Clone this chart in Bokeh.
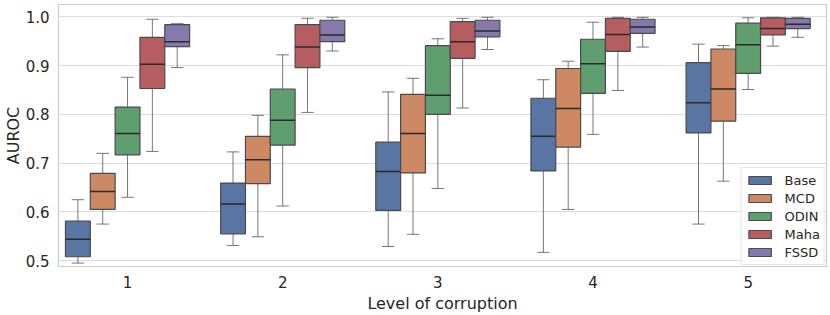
from bokeh.plotting import figure
from bokeh.models import ColumnDataSource, FixedTicker, Range1d, Legend, LegendItem, NumeralTickFormatter
from bokeh.embed import file_html
from bokeh.resources import INLINE

levels = ["1", "2", "3", "4", "5"]
series = ["Base", "MCD", "ODIN", "Maha", "FSSD"]
y_ticks = [0.5, 0.6, 0.7, 0.8, 0.9, 1.0]

base_lo = [0.495, 0.531, 0.529, 0.517, 0.575]
base_q1 = [0.508, 0.555, 0.603, 0.684, 0.762]
base_med = [0.544, 0.616, 0.683, 0.755, 0.824]
base_q3 = [0.581, 0.659, 0.743, 0.833, 0.906]
base_hi = [0.625, 0.723, 0.846, 0.871, 0.944]

mcd_lo = [0.575, 0.549, 0.554, 0.605, 0.663]
mcd_q1 = [0.605, 0.658, 0.680, 0.733, 0.786]
mcd_med = [0.642, 0.707, 0.761, 0.812, 0.852]
mcd_q3 = [0.679, 0.755, 0.841, 0.894, 0.934]
mcd_hi = [0.720, 0.798, 0.874, 0.909, 0.941]

odin_lo = [0.630, 0.612, 0.648, 0.759, 0.851]
odin_q1 = [0.717, 0.737, 0.800, 0.843, 0.884]
odin_med = [0.761, 0.788, 0.839, 0.904, 0.943]
odin_q3 = [0.815, 0.852, 0.941, 0.954, 0.987]
odin_hi = [0.876, 0.922, 0.955, 0.989, 0.998]

maha_lo = [0.724, 0.804, 0.813, 0.849, 0.940]
maha_q1 = [0.853, 0.896, 0.915, 0.929, 0.963]
maha_med = [0.903, 0.938, 0.949, 0.964, 0.976]
maha_q3 = [0.958, 0.984, 0.990, 0.997, 0.998]
maha_hi = [0.995, 0.997, 0.997, 0.999, 0.999]

fssd_lo = [0.896, 0.930, 0.933, 0.938, 0.958]
fssd_q1 = [0.939, 0.949, 0.959, 0.966, 0.976]
fssd_med = [0.949, 0.963, 0.971, 0.979, 0.985]
fssd_q3 = [0.984, 0.993, 0.993, 0.995, 0.997]
fssd_hi = [0.986, 0.999, 0.999, 0.999, 0.999]

stats = {
    "Base": (base_lo, base_q1, base_med, base_q3, base_hi),
    "MCD": (mcd_lo, mcd_q1, mcd_med, mcd_q3, mcd_hi),
    "ODIN": (odin_lo, odin_q1, odin_med, odin_q3, odin_hi),
    "Maha": (maha_lo, maha_q1, maha_med, maha_q3, maha_hi),
    "FSSD": (fssd_lo, fssd_q1, fssd_med, fssd_q3, fssd_hi),
}
colors = ["#5975a4", "#cc8963", "#5f9e6e", "#b55d60", "#857aab"]

FONT = "DejaVu Sans"
p = figure(width=830, height=315, output_backend="svg", toolbar_location=None,
           x_range=Range1d(-0.445, 4.505), y_range=Range1d(0.488, 1.0253),
           min_border_top=4, min_border_right=4, min_border_left=0, min_border_bottom=0)

box_w = 0.16
cap_w = 0.08
edge = "#4a4a4a"
items = []
for j, name in enumerate(series):
    lo, q1, med, q3, hi = stats[name]
    xs = [i + (j - 2) * box_w for i in range(len(levels))]
    src = ColumnDataSource(dict(
        x=xs, lo=lo, q1=q1, med=med, q3=q3, hi=hi,
        xl=[x - box_w / 2 for x in xs], xr=[x + box_w / 2 for x in xs],
        cl=[x - cap_w / 2 for x in xs], cr=[x + cap_w / 2 for x in xs],
    ))
    p.segment(x0="x", y0="q3", x1="x", y1="hi", source=src, line_color=edge, line_width=1, line_alpha=0.75)
    p.segment(x0="x", y0="lo", x1="x", y1="q1", source=src, line_color=edge, line_width=1, line_alpha=0.75)
    p.segment(x0="cl", y0="hi", x1="cr", y1="hi", source=src, line_color=edge, line_width=1, line_alpha=0.75)
    p.segment(x0="cl", y0="lo", x1="cr", y1="lo", source=src, line_color=edge, line_width=1, line_alpha=0.75)
    r = p.vbar(x="x", width=box_w, bottom="q1", top="q3", source=src,
               fill_color=colors[j], line_color=edge, line_width=1.2)
    p.segment(x0="xl", y0="med", x1="xr", y1="med", source=src, line_color="#2a2a2a", line_width=1.5)
    items.append(LegendItem(label=name, renderers=[r]))

legend = Legend(items=items, location="bottom_right")
legend.label_text_font = FONT
legend.label_text_font_size = "13px"
legend.label_text_color = "#262626"
legend.glyph_width = 28
legend.glyph_height = 10
legend.label_height = 16
legend.label_standoff = 11
legend.spacing = 2
legend.padding = 4
legend.margin = 1
legend.border_line_color = "#cccccc"
legend.border_line_width = 1
legend.background_fill_alpha = 0.85
p.add_layout(legend)

p.xaxis.ticker = FixedTicker(ticks=list(range(len(levels))))
p.xaxis.major_label_overrides = {i: lab for i, lab in enumerate(levels)}
p.yaxis.ticker = FixedTicker(ticks=y_ticks)
p.yaxis.formatter = NumeralTickFormatter(format="0.0")

for ax in (p.xaxis, p.yaxis):
    ax.axis_line_color = None
    ax.major_tick_line_color = None
    ax.minor_tick_line_color = None
    ax.major_label_text_font = FONT
    ax.major_label_text_font_size = "15px"
    ax.major_label_text_color = "#262626"
    ax.axis_label_text_font = FONT
    ax.axis_label_text_font_size = "16px"
    ax.axis_label_text_font_style = "normal"
    ax.axis_label_text_color = "#262626"
    ax.major_label_standoff = 3
    ax.axis_label_standoff = 0

p.xaxis.axis_label_standoff = 3

p.xaxis.axis_label = "Level of corruption"
p.yaxis.axis_label = "AUROC"

p.xgrid.grid_line_color = None
p.ygrid.grid_line_color = "#dcdcdc"
p.ygrid.grid_line_width = 1
p.outline_line_color = "#cccccc"
p.outline_line_width = 1.2
p.background_fill_color = "white"
p.border_fill_color = "white"

open("out.html", "w").write(file_html(p, INLINE))
